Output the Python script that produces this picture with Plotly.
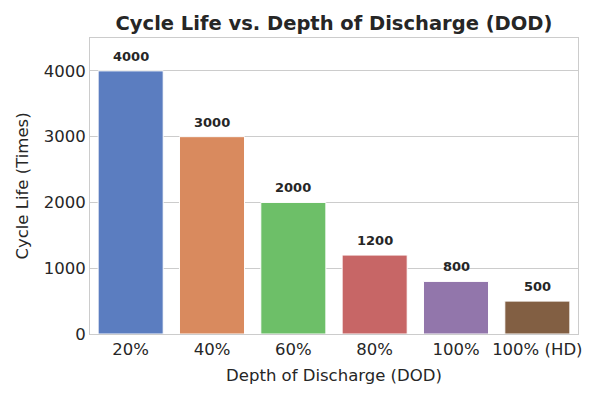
import plotly.graph_objects as go

# Данные
dod_levels = ['20%', '40%', '60%', '80%', '100%', '100% (HD)']
cycle_life = [4000, 3000, 2000, 1200, 800, 500]
bar_colors = ['#5B7DC0', '#D98A5E', '#6DBF68', '#C76666', '#9276AB', '#825F43']

fig = go.Figure(go.Bar(
    x=dod_levels, y=cycle_life,
    marker=dict(color=bar_colors, line=dict(color='white', width=1)),
    width=0.8,
))

# Подписи над столбцами
for cat, val in zip(dod_levels, cycle_life):
    fig.add_annotation(x=cat, y=val, text=f'<b>{val}</b>', showarrow=False,
                       yanchor='bottom', yshift=5,
                       font=dict(family='DejaVu Sans', size=13, color='#262626'))

# страница имеет отступ 8px, поэтому поля сдвинуты
fig.update_layout(
    width=600, height=400,
    margin=dict(l=82, r=30, t=30, b=74),
    paper_bgcolor='white', plot_bgcolor='white',
    font=dict(family='DejaVu Sans', color='#262626'),
    title=dict(text='<b>Cycle Life vs. Depth of Discharge (DOD)</b>', x=0.5, xref='paper', xanchor='center',
               y=0.9625, yanchor='middle', font=dict(size=19.5)),
    showlegend=False,
)
fig.update_xaxes(
    title=dict(text='Depth of Discharge (DOD)', font=dict(size=16.5), standoff=11),
    tickfont=dict(size=16.5), showgrid=False, showline=True, linecolor='#cccccc', mirror=True,
    ticks='',
)
fig.update_yaxes(
    title=dict(text='Cycle Life (Times)', font=dict(size=16.5), standoff=10),
    range=[0, 4500], tickvals=[0, 1000, 2000, 3000, 4000], tickfont=dict(size=16.5),
    showgrid=True, gridcolor='#cccccc', showline=True, linecolor='#cccccc', mirror=True,
    zeroline=False, ticks='',
)

fig.write_html('out.html')
